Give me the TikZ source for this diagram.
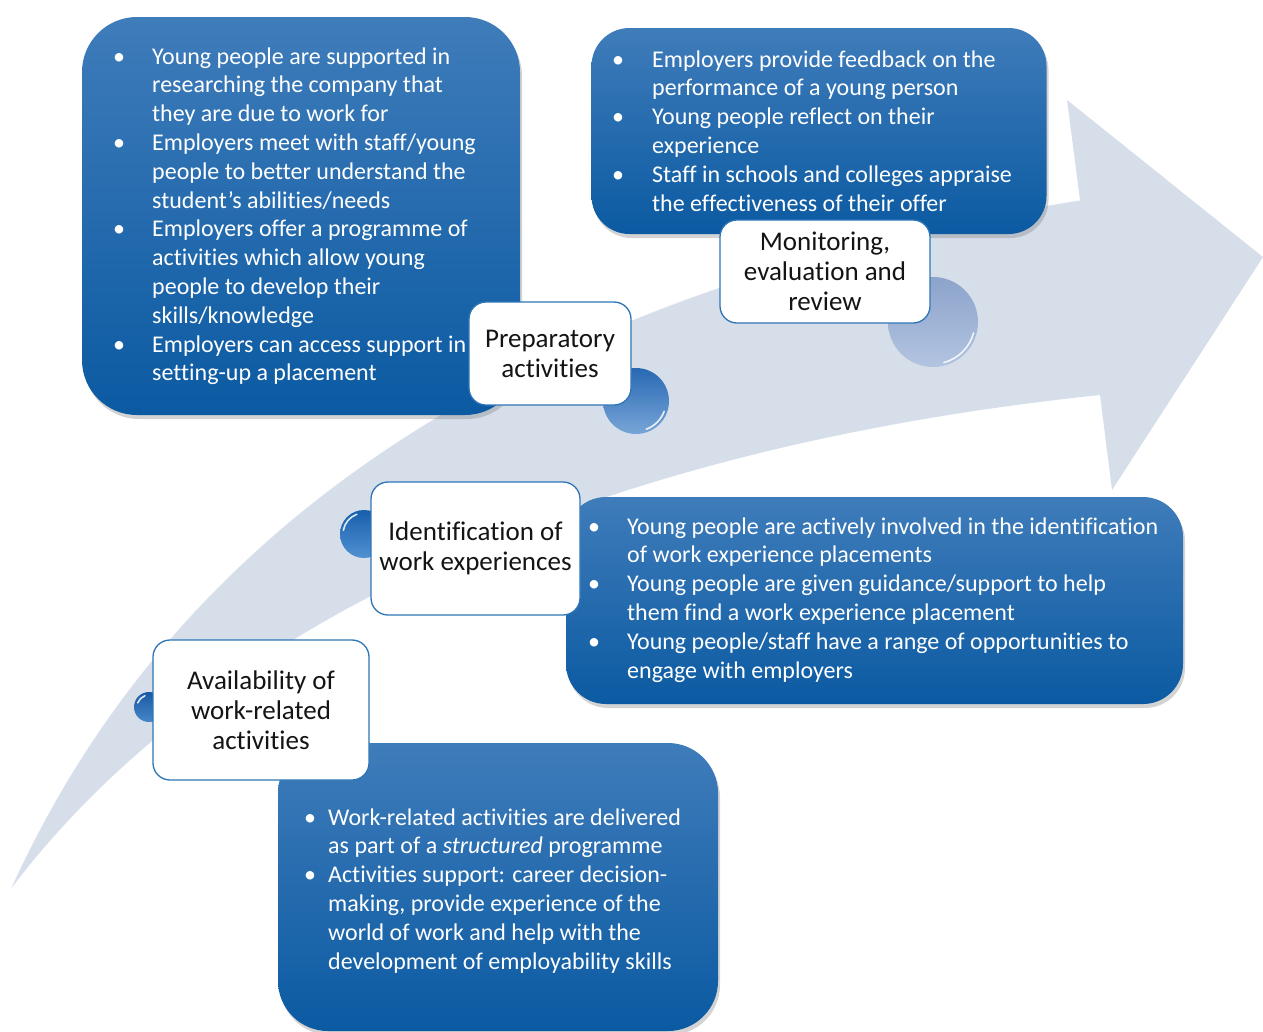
\documentclass[tikz,border=0pt]{standalone}
\usepackage{fontspec}
\setmainfont{Carlito}[Ligatures=NoCommon]
\usetikzlibrary{shadows}
\definecolor{arrowc}{HTML}{D6DEEA}
\definecolor{btop}{HTML}{3F7CBA}
\definecolor{bbot}{HTML}{0B5AA2}
\definecolor{lblborder}{HTML}{2E75B6}
\definecolor{lbltext}{HTML}{141414}
\newcommand{\bl}{\textbullet}
\begin{document}
\begin{tikzpicture}[x=1pt,y=-1pt,
  bluebox/.style={top color=btop, bottom color=bbot, draw=none, inner sep=0pt,
    drop shadow={opacity=0.35, shadow xshift=2pt, shadow yshift=-4pt}},
  btext/.style={text=white, inner sep=0pt, font=\fontsize{24}{28.8}\selectfont},
  lbl/.style={draw=lblborder, line width=1.3pt, fill=white, rounded corners=17pt,
    align=center, inner sep=0pt, text=lbltext, font=\fontsize{27}{30}\selectfont},
  sphere/.style={circle, draw=none, inner sep=0pt},
  shine/.style={white, line width=1.6pt, opacity=0.85, line cap=round}
]
\useasboundingbox (0,0) rectangle (1263,1031);

% curved arrow
\fill[arrowc] (10,890) .. controls (160,690) and (480,460) .. (1100,395)
  -- (1112,490) -- (1263,257) -- (1067,100) -- (1080,200)
  .. controls (450,300) and (150,580) .. (10,890) -- cycle;
\draw[white, line width=1pt, opacity=0.8] (1080,200) .. controls (450,300) and (150,580) .. (10,890);

% blue boxes
\node[bluebox, rounded corners=55pt, minimum width=438pt, minimum height=398pt] (b1) at (301,216) {};
\node[bluebox, rounded corners=38pt, minimum width=455pt, minimum height=206pt] (b2) at (819,131) {};
\node[bluebox, rounded corners=40pt, minimum width=617pt, minimum height=207pt] (b3) at (874.5,600.5) {};
\node[bluebox, rounded corners=50pt, minimum width=440pt, minimum height=288pt] (b4) at (498,887) {};

% spheres
\node[sphere, minimum size=66pt, top color={rgb,255:red,40;green,105;blue,180}, bottom color={rgb,255:red,120;green,165;blue,215}] (s1) at (636,401) {};
\node[sphere, minimum size=90pt, top color={rgb,255:red,140;green,163;blue,203}, bottom color={rgb,255:red,178;green,196;blue,224}] (s2) at (933,322) {};
\node[sphere, minimum size=48pt, top color={rgb,255:red,25;green,95;blue,172}, bottom color={rgb,255:red,80;green,145;blue,210}] (s3) at (364,534) {};
\node[sphere, minimum size=30pt, top color={rgb,255:red,25;green,90;blue,165}, bottom color={rgb,255:red,70;green,135;blue,200}] (s4) at (149,707) {};
\draw[shine] ([shift={(100:30pt)}]s1.center) arc[start angle=100, end angle=170, radius=30pt];
\draw[shine] ([shift={(290:30pt)}]s1.center) arc[start angle=290, end angle=340, radius=30pt];
\draw[shine] ([shift={(100:42pt)}]s2.center) arc[start angle=100, end angle=165, radius=42pt];
\draw[shine] ([shift={(285:42pt)}]s2.center) arc[start angle=285, end angle=345, radius=42pt];
\draw[shine] ([shift={(110:21pt)}]s3.center) arc[start angle=110, end angle=170, radius=21pt];
\draw[shine] ([shift={(110:12pt)}]s4.center) arc[start angle=110, end angle=160, radius=12pt];

% label boxes
\node[lbl, minimum width=162pt, minimum height=103pt] (l1) at (550,353.5) {Preparatory\\activities};
\node[lbl, minimum width=210pt, minimum height=103pt] (l2) at (825,271.5) {Monitoring,\\evaluation and\\review};
\node[lbl, minimum width=209pt, minimum height=133pt] (l3) at (475.5,548.5) {Identification of\\work experiences};
\node[lbl, minimum width=216pt, minimum height=140pt] (l4) at (261,710) {Availability of\\work-related\\activities};

% box texts
\node[btext, anchor=base west] (t1) at (113,64) {\begin{tabular}[t]{@{}p{39pt}@{}l@{}}
\bl & Young people are supported in\\
    & researching the company that\\
    & they are due to work for\\
\bl & Employers meet with staff/young\\
    & people to better understand the\\
    & student’s abilities/needs\\
\bl & Employers offer a programme of\\
    & activities which allow young\\
    & people to develop their\\
    & skills/knowledge\\
\bl & Employers can access support in\\
    & setting-up a placement
\end{tabular}};

\node[btext, anchor=base west] (t2) at (612,67) {\begin{tabular}[t]{@{}p{40pt}@{}l@{}}
\bl & Employers provide feedback on the\\
    & performance of a young person\\
\bl & Young people reflect on their\\
    & experience\\
\bl & Staff in schools and colleges appraise\\
    & the effectiveness of their offer
\end{tabular}};

\node[btext, anchor=base west] (t3) at (588,534) {\begin{tabular}[t]{@{}p{39pt}@{}l@{}}
\bl & Young people are actively involved in the identification\\
    & of work experience placements\\
\bl & Young people are given guidance/support to help\\
    & them find a work experience placement\\
\bl & Young people/staff have a range of opportunities to\\
    & engage with employers
\end{tabular}};

\node[btext, anchor=base west] (t4) at (304,825) {\begin{tabular}[t]{@{}p{24pt}@{}l@{}}
\bl & Work-related activities are delivered\\
    & as part of a \textit{structured} programme\\
\bl & Activities support: career decision-\\
    & making, provide experience of the\\
    & world of work and help with the\\
    & development of employability skills
\end{tabular}};
\end{tikzpicture}
\end{document}
